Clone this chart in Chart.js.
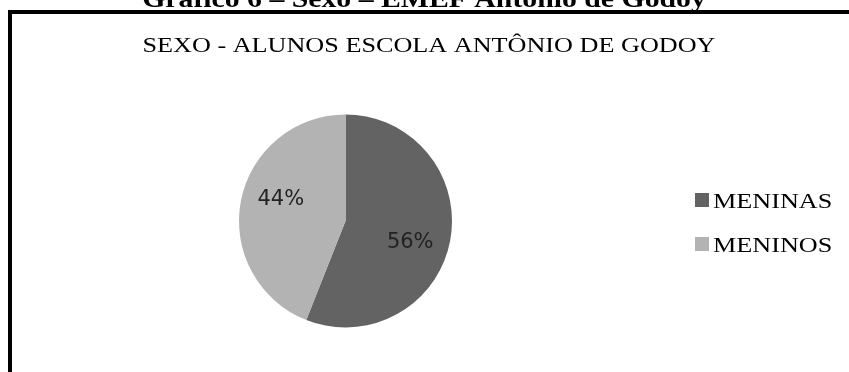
<!DOCTYPE html>
<html>
<head>
<meta charset="utf-8">
<script src="https://cdn.jsdelivr.net/npm/chart.js@4/dist/chart.umd.min.js"></script>
<style>
html,body{margin:0;padding:0;background:#fff;}
#wrap{width:849px;height:372px;position:relative;}
</style>
</head>
<body>
<div id="wrap"><canvas id="c" width="849" height="372"></canvas></div>
<script>
const caption = 'Gráfico 6 – Sexo – EMEF Antônio de Godoy';
const chartTitle = 'SEXO - ALUNOS ESCOLA ANTÔNIO DE GODOY';
const categories = ['MENINAS', 'MENINOS'];
const values = [56, 44];
const colors = ['#636363', '#b3b3b3'];

const STRETCH = 1.19;

function stretchedText(ctx, text, cx, baseline, font, align) {
  ctx.save();
  ctx.font = font;
  ctx.textBaseline = 'alphabetic';
  ctx.textAlign = align;
  ctx.translate(cx, baseline);
  ctx.scale(STRETCH, 1);
  ctx.fillText(text, 0, 0);
  ctx.restore();
}

const decor = {
  id: 'decor',
  beforeDraw(chart) {
    const ctx = chart.ctx;
    ctx.save();
    ctx.fillStyle = '#fff';
    ctx.fillRect(0, 0, chart.width, chart.height);
    ctx.restore();
  },
  afterDraw(chart) {
    const ctx = chart.ctx;
    ctx.save();
    // frame
    ctx.fillStyle = '#000';
    ctx.fillRect(8, 10, chart.width - 8, 4);
    ctx.fillRect(8, 10, 4, chart.height - 10);
    // caption (clipped at top)
    ctx.fillStyle = '#000';
    stretchedText(ctx, caption, 424, 7, 'bold 25px "Liberation Serif"', 'center');
    // title
    stretchedText(ctx, chartTitle, 429, 52, '22px "Liberation Serif"', 'center');
    // legend
    const rows = [200, 244];
    categories.forEach((lab, i) => {
      ctx.fillStyle = colors[i];
      ctx.fillRect(695, rows[i] - 7, 14, 14);
      ctx.fillStyle = '#000';
      stretchedText(ctx, lab, 713, rows[i] + 8, '22px "Liberation Serif"', 'left');
    });
    // percent labels
    const meta = chart.getDatasetMeta(0);
    const total = values.reduce((a, b) => a + b, 0);
    meta.data.forEach((arc, i) => {
      const p = arc.getProps(['x', 'y', 'startAngle', 'endAngle', 'outerRadius'], true);
      const a = (p.startAngle + p.endAngle) / 2 + 0.13;
      const r = p.outerRadius * 0.64;
      const x = p.x + Math.cos(a) * r;
      const y = p.y + Math.sin(a) * r;
      ctx.save();
      ctx.fillStyle = '#222';
      ctx.font = '21px "DejaVu Sans"';
      ctx.textAlign = 'center';
      ctx.textBaseline = 'middle';
      ctx.fillText(Math.round(values[i] / total * 100) + '%', x, y);
      ctx.restore();
    });
    ctx.restore();
  }
};

new Chart(document.getElementById('c'), {
  type: 'pie',
  data: {
    labels: categories,
    datasets: [{
      data: values,
      backgroundColor: colors,
      borderWidth: 0
    }]
  },
  options: {
    responsive: false,
    animation: false,
    layout: { padding: { left: 239, right: 397, top: 114, bottom: 44 } },
    plugins: {
      legend: { display: false },
      title: { display: false },
      tooltip: { enabled: false }
    }
  },
  plugins: [decor]
});
</script>
</body>
</html>
